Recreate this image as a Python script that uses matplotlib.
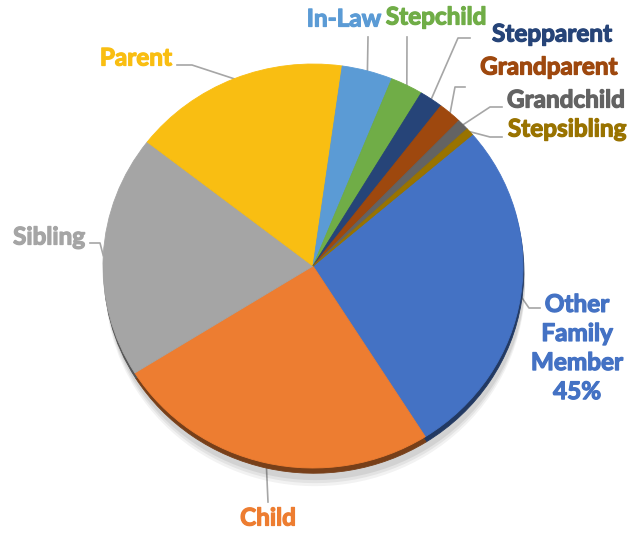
import matplotlib
matplotlib.use('Agg')
import matplotlib.pyplot as plt
import matplotlib.patheffects as pe
import numpy as np
from matplotlib.colors import to_rgb

# 数据
categories = ['Other Family Member', 'Child', 'Sibling', 'Parent', 'In-Law',
              'Stepchild', 'Stepparent', 'Grandparent', 'Grandchild', 'Stepsibling']
shares = [27.3, 25.1, 19.4, 16.7, 3.9, 2.5, 1.8, 1.8, 0.9, 0.6]
label_texts = ['Other\nFamily\nMember\n45%', 'Child', 'Sibling', 'Parent', 'In-Law',
               'Stepchild', 'Stepparent', 'Grandparent', 'Grandchild', 'Stepsibling']
colors = ['#4472C4', '#ED7D31', '#A5A5A5', '#F9BE12', '#5B9BD5',
          '#70AD47', '#264478', '#9E480E', '#636363', '#997300']

# 版面：像素坐标（标签中心 + 引线折点）
W, H = 639, 534
CX, CY, RX, RY = 313, 266, 210, 202
label_px = [(577, 348), (268, 518), (49, 237), (136, 58), (344, 19),
            (436, 17), (552, 34), (549, 67), (566, 100), (567, 129)]
leader_px = [[(529, 308), (540, 308)], [(268, 502)], [(100, 243), (90, 243)],
             [(192, 65), (177, 65)], [(368, 37)], [(407, 37)],
             [(458, 38), (470, 38)], [(455, 87), (465, 87)],
             [(490, 107), (502, 107)], [(490, 137), (502, 137)]]


def px2data(p):
    return (p[0] - CX) / RX, (CY - p[1]) / RY


fig = plt.figure(figsize=(W / 100, H / 100), dpi=100)
ax = fig.add_axes([0, 0, 1, 1])

start = 90 - 49.4

# 柔和阴影（只向下偏移）
for k, a in [(0.06, 0.05), (0.045, 0.06), (0.03, 0.07)]:
    sh, _ = ax.pie(shares, colors=['#000000'] * len(shares), startangle=start,
                   counterclock=False, center=(0.01, -0.03 - k), frame=True)
    for w in sh:
        w.set_alpha(a)
        w.set_linewidth(0)

# 侧面厚度
dark = [tuple(c * 0.5 for c in to_rgb(col)) for col in colors]
side, _ = ax.pie(shares, colors=dark, startangle=start, counterclock=False,
                 center=(0.004, -0.026), frame=True)
for w, c in zip(side, dark):
    w.set_edgecolor(c)
    w.set_linewidth(0.6)

wedges, _ = ax.pie(shares, colors=colors, startangle=start, counterclock=False, frame=True)
for w, c in zip(wedges, colors):
    w.set_edgecolor(c)
    w.set_linewidth(0.6)
    w.set_zorder(3)

ax.set_xlim(-CX / RX, (W - CX) / RX)
ax.set_ylim((CY - H) / RY, CY / RY)
ax.set_aspect('auto')
ax.axis('off')

for w, txt, col, lp, pts in zip(wedges, label_texts, colors, label_px, leader_px):
    mid = np.radians((w.theta1 + w.theta2) / 2)
    xs = [np.cos(mid)]
    ys = [np.sin(mid)]
    for p in pts:
        x, y = px2data(p)
        xs.append(x)
        ys.append(y)
    ax.plot(xs, ys, color='#A6A6A6', linewidth=1.2, zorder=0.5)
    x, y = px2data(lp)
    ax.text(x, y, txt, color=col, fontsize=17.5, fontweight='bold',
            family=['Lato', 'DejaVu Sans'], ha='center', va='center',
            linespacing=1.32, zorder=5,
            path_effects=[pe.withStroke(linewidth=0.9, foreground=col)])

fig.savefig('out.png', dpi=100, facecolor='white')
